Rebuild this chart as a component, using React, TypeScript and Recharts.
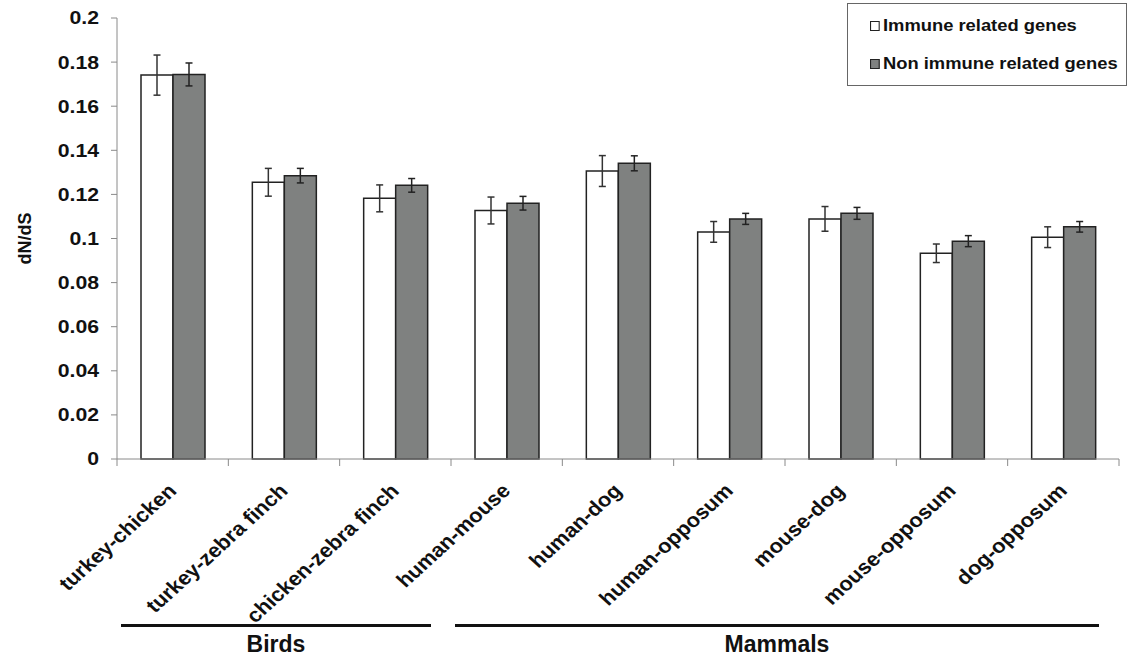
import { Bar, BarChart, ErrorBar, XAxis, YAxis } from 'recharts';

document.body.style.margin = '0';
document.body.style.background = '#fff';

const categories = [
  'turkey-chicken',
  'turkey-zebra finch',
  'chicken-zebra finch',
  'human-mouse',
  'human-dog',
  'human-opposum',
  'mouse-dog',
  'mouse-opposum',
  'dog-opposum',
];
const immune = [0.1741, 0.1255, 0.1182, 0.1127, 0.1306, 0.103, 0.1089, 0.0933, 0.1006];
const immuneErr = [0.0091, 0.0063, 0.0061, 0.0061, 0.007, 0.0047, 0.0056, 0.0042, 0.0047];
const nonImmune = [0.1744, 0.1285, 0.1241, 0.116, 0.1341, 0.1089, 0.1114, 0.0988, 0.1053];
const nonImmuneErr = [0.0052, 0.0033, 0.0031, 0.0031, 0.0034, 0.0025, 0.0027, 0.0025, 0.0024];
const yTicks = [0, 0.02, 0.04, 0.06, 0.08, 0.1, 0.12, 0.14, 0.16, 0.18, 0.2];
const groupNames = ['Birds', 'Mammals'];
const groupSizes = [3, 6];
const seriesNames = ['Immune related genes', 'Non immune related genes'];

const data = categories.map((name, i) => ({
  name,
  immune: immune[i],
  immuneErr: immuneErr[i],
  nonImmune: nonImmune[i],
  nonImmuneErr: nonImmuneErr[i],
}));

const W = 1129;
const H = 660;
const plotLeft = 117;
const plotRight = 1119;
const band = (plotRight - plotLeft) / categories.length;
const font = '"Liberation Sans", Arial, sans-serif';
const axisColor = '#8a8a8a';
const grayFill = '#7f8180';
// the source figure is stretched a little horizontally
const stretch = 1.1;

function CategoryTick(props: any) {
  const { x, y, index, payload } = props;
  const left = x - band / 2;
  const ax = x + 5;
  const ay = y + 33;
  return (
    <g>
      <line x1={left} y1={y} x2={left} y2={y + 7} stroke={axisColor} />
      {index === categories.length - 1 && (
        <line x1={x + band / 2} y1={y} x2={x + band / 2} y2={y + 7} stroke={axisColor} />
      )}
      <text
        transform={`translate(${ax},${ay}) scale(${stretch},1) rotate(-45)`}
        textAnchor="end"
        fontFamily={font}
        fontSize={20}
        fontWeight="bold"
        fill="#111"
      >
        {payload.value}
      </text>
    </g>
  );
}

function fmt(v: number) {
  return String(Number(v.toFixed(2)));
}

function ValueTick(props: any) {
  const { x, y, payload } = props;
  return (
    <text
      transform={`translate(${x},${y}) scale(1.18,1)`}
      textAnchor="end"
      dy="0.36em"
      fontFamily={font}
      fontSize={18}
      fontWeight="bold"
      fill="#111"
    >
      {fmt(payload.value)}
    </text>
  );
}

export default function App() {
  let start = 0;
  const groups = groupNames.map((g, i) => {
    const x0 = plotLeft + start * band + 4;
    const x1 = plotLeft + (start + groupSizes[i]) * band - 20;
    start += groupSizes[i];
    return { g, x0, x1 };
  });

  return (
    <div style={{ position: 'relative', width: W, height: H, fontFamily: font }}>
      <BarChart
        width={W}
        height={H}
        data={data}
        margin={{ top: 18, right: W - plotRight, bottom: 11, left: 17 }}
        barGap={0}
        barSize={32}
      >
        <YAxis
          width={100}
          domain={[0, 0.2]}
          ticks={yTicks}
          stroke={axisColor}
          tickSize={6}
          tickMargin={12}
          tick={<ValueTick />}
          label={{
            value: 'dN/dS',
            angle: -90,
            position: 'insideLeft',
            offset: 8,
            style: { textAnchor: 'middle', fill: '#111', fontSize: 18, fontWeight: 'bold', fontFamily: font },
          }}
        />
        <XAxis
          dataKey="name"
          height={190}
          stroke={axisColor}
          tickLine={false}
          tickSize={0}
          tickMargin={0}
          interval={0}
          tick={<CategoryTick />}
        />
        <Bar dataKey="immune" fill="#fff" stroke="#222" strokeWidth={1.5} isAnimationActive={false}>
          <ErrorBar dataKey="immuneErr" width={3.5} stroke="#333" strokeWidth={1.5} isAnimationActive={false} />
        </Bar>
        <Bar dataKey="nonImmune" fill={grayFill} stroke="#222" strokeWidth={1.5} isAnimationActive={false}>
          <ErrorBar dataKey="nonImmuneErr" width={3.5} stroke="#222" strokeWidth={1.5} isAnimationActive={false} />
        </Bar>
      </BarChart>

      <div
        style={{
          position: 'absolute',
          left: 847,
          top: 3,
          width: 278,
          height: 81,
          border: '1.5px solid #666',
          background: '#fff',
        }}
      >
        {seriesNames.map((s, i) => (
          <div
            key={s}
            style={{
              position: 'absolute',
              left: 22,
              top: i === 0 ? 12 : 50,
              display: 'flex',
              alignItems: 'center',
              fontSize: 17,
              fontWeight: 'bold',
              color: '#111',
              whiteSpace: 'nowrap',
              transform: 'scaleX(1.08)',
              transformOrigin: 'left center',
            }}
          >
            <span
              style={{
                display: 'inline-block',
                width: 7,
                height: 8,
                border: '1px solid #222',
                background: i === 0 ? '#fff' : grayFill,
                marginRight: 3,
              }}
            />
            {s}
          </div>
        ))}
      </div>

      {groups.map(({ g, x0, x1 }) => (
        <div key={g}>
          <div style={{ position: 'absolute', left: x0, top: 624, width: x1 - x0, height: 3, background: '#111' }} />
          <div
            style={{
              position: 'absolute',
              left: x0,
              width: x1 - x0,
              top: 631,
              textAlign: 'center',
              fontSize: 23,
              fontWeight: 'bold',
              color: '#111',
            }}
          >
            {g}
          </div>
        </div>
      ))}
    </div>
  );
}
